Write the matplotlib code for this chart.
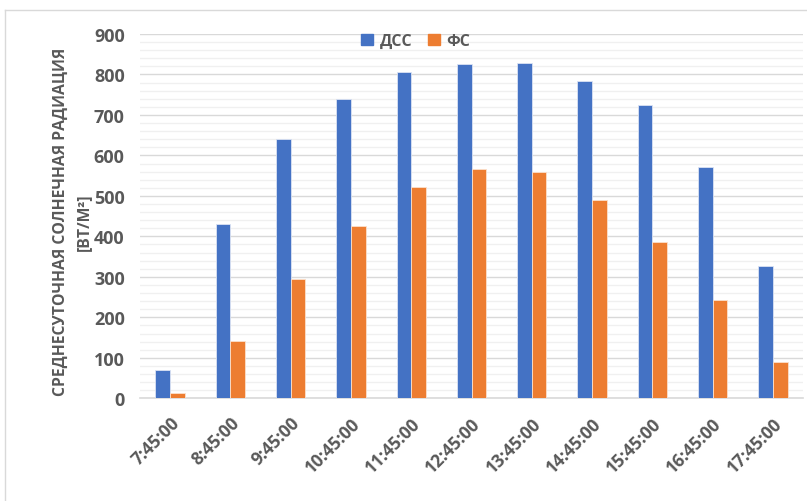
import matplotlib
matplotlib.use("Agg")
import matplotlib.pyplot as plt
import numpy as np
from matplotlib.lines import Line2D
from matplotlib.patches import Patch

plt.rcParams['font.family'] = ['Open Sans', 'DejaVu Sans']

categories = ["7:45:00", "8:45:00", "9:45:00", "10:45:00", "11:45:00", "12:45:00",
              "13:45:00", "14:45:00", "15:45:00", "16:45:00", "17:45:00"]
dss = [70, 431, 640, 740, 805, 825, 829, 785, 725, 571, 326]
fs = [13, 142, 294, 426, 523, 567, 559, 491, 386, 242, 90]
series_names = ["ДСС", "ФС"]

blue = "#4472C4"
orange = "#ED7D31"
grey = "#595959"

fig = plt.figure(figsize=(8.07, 5.02), dpi=100)
ax = fig.add_axes([140/807, 1-399.3/502, (803-140)/807, (399.3-35)/502])

x = np.arange(len(categories))
w = 0.244
ax.bar(x - w/2, dss, w, color=blue, edgecolor="#dbe3f3", linewidth=0.6, zorder=3)
ax.bar(x + w/2, fs, w, color=orange, edgecolor="#fbe0cc", linewidth=0.6, zorder=3)

ax.set_xlim(-0.5, len(categories) - 0.5)
ax.set_ylim(0, 900)
ax.set_yticks(np.arange(0, 901, 100))
ax.set_yticks(np.arange(0, 901, 20), minor=True)
ax.grid(axis='y', which='major', color="#d9d9d9", linewidth=1.0, zorder=0)
ax.grid(axis='y', which='minor', color="#f0f0f0", linewidth=1.0, zorder=0)
for s in ["top", "right", "left"]:
    ax.spines[s].set_visible(False)
ax.spines["bottom"].set_color("#d9d9d9")
ax.spines["bottom"].set_linewidth(1.2)
ax.tick_params(axis='both', which='both', length=0)
ax.tick_params(axis='y', pad=11)
ax.tick_params(axis='x', pad=11)
ax.set_xticks(x)
ax.set_xticklabels(categories, rotation=45, ha='right', rotation_mode='anchor',
                   fontsize=12.5, fontweight='bold', color=grey)
for lab in ax.get_yticklabels():
    lab.set_fontsize(13)
    lab.set_fontweight('bold')
    lab.set_color(grey)

ax.set_ylabel("СРЕДНЕСУТОЧНАЯ СОЛНЕЧНАЯ РАДИАЦИЯ\n[ВТ/М²]", fontsize=11.3,
              fontweight='bold', color=grey, linespacing=1.6)
ax.yaxis.set_label_coords((92-140)/663, 0.487)

handles = [Patch(color=blue), Patch(color=orange)]
leg = fig.legend(handles, series_names, loc='center', bbox_to_anchor=(416/807, 1-42/502),
                 ncol=2, frameon=False, handlelength=0.7, handleheight=0.7,
                 handletextpad=0.45, columnspacing=1.0,
                 prop={'size': 11.5, 'weight': 'bold'})
for t in leg.get_texts():
    t.set_color(grey)

# outer chart frame (left and top edges visible)
fig.add_artist(Line2D([5/807, 5/807], [0, 1-11/502], transform=fig.transFigure,
                      color="#d9d9d9", linewidth=1))
fig.add_artist(Line2D([5/807, 1], [1-11/502, 1-11/502], transform=fig.transFigure,
                      color="#d9d9d9", linewidth=1))

fig.savefig("out.png", dpi=100)
